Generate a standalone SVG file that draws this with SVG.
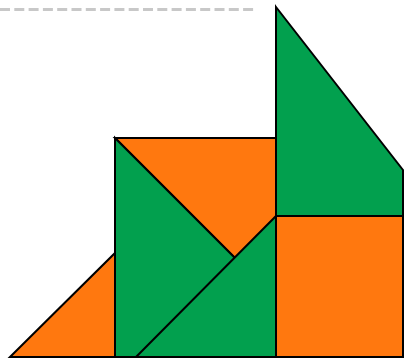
<svg xmlns="http://www.w3.org/2000/svg" width="404" height="358" viewBox="0 0 404 358">
<style>
.g{fill:#02A04E;stroke:#000;stroke-width:2;stroke-linejoin:miter}
.o{fill:#FF780F;stroke:#000;stroke-width:2;stroke-linejoin:miter}
.d{stroke:#c8c8c8;stroke-width:3;stroke-dasharray:10 4.3;fill:none}
</style>
<line class="d" x1="0" y1="9.5" x2="256" y2="9.5"/>
<g id="orange-top"><polygon class="o" points="115,138 276,138 276,299"/></g>
<g id="green-mid"><polygon class="g" points="115,138 115,357 334,357"/></g>
<g id="orange-left"><polygon class="o" points="10,357 115,253 115,357"/></g>
<g id="green-low"><polygon class="g" points="136,357 276,216 276,357"/></g>
<g id="green-tall"><polygon class="g" points="276,7 403,170 403,216 276,216"/></g>
<g id="orange-square"><polygon class="o" points="276,216 403,216 403,357 276,357"/></g>
</svg>
